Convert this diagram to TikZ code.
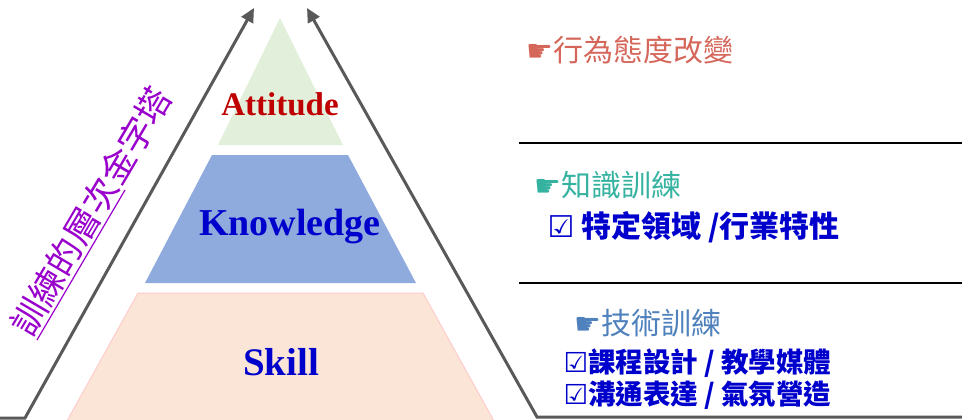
\documentclass[tikz,border=0pt]{standalone}
\usepackage{fontspec}
\setmainfont{Liberation Serif}
\newfontfamily\cjk{Noto Sans CJK TC}
\newfontfamily\sym{DejaVu Sans}
\usetikzlibrary{arrows.meta}
\definecolor{attfill}{HTML}{E2EFDA}
\definecolor{knofill}{HTML}{8FAADC}
\definecolor{skifill}{HTML}{FBE5D6}
\definecolor{skiline}{HTML}{FFCCCC}
\definecolor{attred}{HTML}{C00000}
\definecolor{deepblue}{HTML}{0000CC}
\definecolor{arrgray}{HTML}{595959}
\definecolor{purp}{HTML}{9900CC}
\definecolor{salmon}{HTML}{D5665A}
\definecolor{teal2}{HTML}{36B3A0}
\definecolor{steel}{HTML}{4F81BD}
\tikzset{
  arr/.style={draw=arrgray, line width=3pt, -{Triangle[length=14pt,width=13pt]}},
  sepline/.style={draw=black, line width=1.6pt},
  layertext/.style={anchor=base, font=\bfseries\fontsize{#1}{#1}\selectfont},
  head/.style={anchor=west, font=\cjk\fontsize{30}{34}\selectfont},
  item/.style={anchor=west, text=deepblue, font=\cjk\bfseries\fontsize{#1}{#1}\selectfont},
}
\newcommand{\hand}{{\sym\mdseries\char"261B}}
\newcommand{\chk}{{\sym\bfseries\char"2611}}
\begin{document}
\begin{tikzpicture}[x=1pt,y=-1pt]
\useasboundingbox (0,0) rectangle (962,420);
% pyramid layers
\fill[attfill] (280,18) -- (343,145) -- (218,145) -- cycle;
\fill[knofill] (212,155) -- (348,155) -- (416,283) -- (145,283) -- cycle;
\filldraw[fill=skifill, draw=skiline, line width=1pt] (138,293) -- (423,293) -- (494,421) -- (67,421) -- cycle;
% layer labels
\node[layertext=33, text=attred] (att) at (280,115) {Attitude};
\node[layertext=38, text=deepblue] (kno) at (290,235) {Knowledge};
\node[layertext=39, text=deepblue] (ski) at (281,375) {Skill};
% arrows
\coordinate (l0) at (0,418);
\coordinate (l1) at (25,418);
\coordinate (l2) at (254,8);
\coordinate (r0) at (962,417);
\coordinate (r1) at (537,417);
\coordinate (r2) at (307,8);
\draw[arr] (l0) -- (l1) -- (l2);
\draw[arr] (r0) -- (r1) -- (r2);
% separators
\coordinate (s1a) at (519,143);
\coordinate (s1b) at (962,143);
\coordinate (s2a) at (519,283);
\coordinate (s2b) at (962,283);
\draw[sepline] (s1a) -- (s1b);
\draw[sepline] (s2a) -- (s2b);
% rotated title
\node[text=purp, rotate=59.5, font=\cjk\fontsize{35}{35}\selectfont] (title) at (91,211) {訓練的層次金字塔};
\coordinate (u1) at (37,340);
\coordinate (u2) at (125,190);
\draw[purp, line width=1.2pt] (u1) -- (u2);
% right side texts
\node[head, text=salmon] (h1) at (523,50.5) {\hand 行為態度改變};
\node[head, text=teal2] (h2) at (531,185) {\hand 知識訓練};
\node[item=30] (i1) at (544,227.5) {\chk\ 特定領域 /行業特性};
\node[head, text=steel] (h3) at (571,323) {\hand 技術訓練};
\node[item=27.5] (i2) at (560,363.5) {\chk 課程設計 / 教學媒體};
\node[item=27.5] (i3) at (560,395) {\chk 溝通表達 / 氣氛營造};
\end{tikzpicture}
\end{document}
